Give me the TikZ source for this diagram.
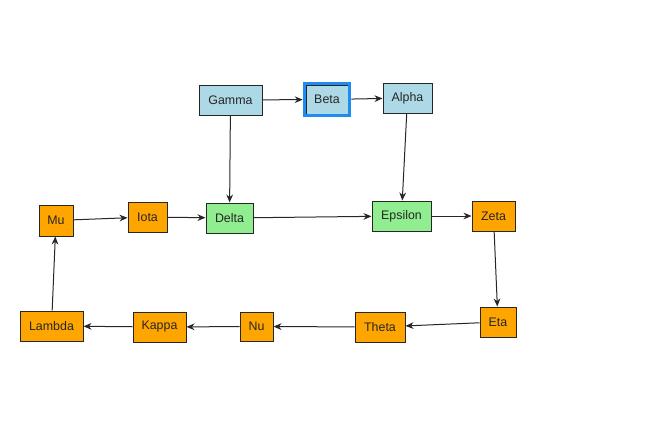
\documentclass[tikz,border=0pt]{standalone}
\usepackage{fontspec}
\setmainfont{Liberation Sans}
\usetikzlibrary{arrows.meta,fit}
\definecolor{lblue}{HTML}{ADD8E6}
\definecolor{lgreen}{HTML}{90EE90}
\definecolor{orng}{HTML}{FFA500}
\definecolor{selblue}{HTML}{1E8CF0}
\tikzset{
  box/.style={draw=black!85, line width=0.75pt, rectangle, inner sep=0pt, minimum height=30*0.75pt, font=\fontsize{9.3}{10}\selectfont, text=black!85},
  bluebox/.style={box, fill=lblue},
  greenbox/.style={box, fill=lgreen},
  orangebox/.style={box, fill=orng},
  conn/.style={draw=black!85, line width=0.75pt, -{Stealth[length=6pt,width=5pt]}},
}
\begin{document}
\begin{tikzpicture}[x=0.75pt,y=-0.75pt]
\useasboundingbox (0,0) rectangle (668,429);
\node[bluebox, minimum width=63*0.75pt] (gamma) at (230.5,100) {Gamma};
\node[bluebox, minimum width=42*0.75pt, minimum height=29*0.75pt] (beta) at (327,99.5) {Beta};
\node[bluebox, minimum width=49*0.75pt] (alpha) at (407.5,98) {Alpha};
\node[orangebox, minimum width=34*0.75pt, minimum height=31*0.75pt] (mu) at (56,220.5) {Mu};
\node[orangebox, minimum width=39*0.75pt] (iota) at (147.5,217) {Iota};
\node[greenbox, minimum width=47*0.75pt] (delta) at (229.5,218) {Delta};
\node[greenbox, minimum width=59*0.75pt] (epsilon) at (401.5,216) {Epsilon};
\node[orangebox, minimum width=43*0.75pt] (zeta) at (493.5,216) {Zeta};
\node[orangebox, minimum width=36*0.75pt] (eta) at (498,322) {Eta};
\node[orangebox, minimum width=50*0.75pt] (theta) at (380,327) {Theta};
\node[orangebox, minimum width=33*0.75pt, minimum height=29*0.75pt] (nu) at (256.5,326.5) {Nu};
\node[orangebox, minimum width=53*0.75pt] (kappa) at (159.5,327) {Kappa};
\node[orangebox, minimum width=63*0.75pt] (lambda) at (51.5,326) {Lambda};
\node[draw=selblue, line width=2.4pt, inner sep=0.9pt, fit=(beta)] (betasel) {};
\draw[conn] (gamma) -- (betasel);
\draw[conn] (betasel) -- (alpha);
\draw[conn] (gamma) -- (delta);
\draw[conn] (alpha) -- (epsilon);
\draw[conn] (mu) -- (iota);
\draw[conn] (iota) -- (delta);
\draw[conn] (delta) -- (epsilon);
\draw[conn] (epsilon) -- (zeta);
\draw[conn] (zeta) -- (eta);
\draw[conn] (eta) -- (theta);
\draw[conn] (theta) -- (nu);
\draw[conn] (nu) -- (kappa);
\draw[conn] (kappa) -- (lambda);
\draw[conn] (lambda) -- (mu);
\end{tikzpicture}
\end{document}
